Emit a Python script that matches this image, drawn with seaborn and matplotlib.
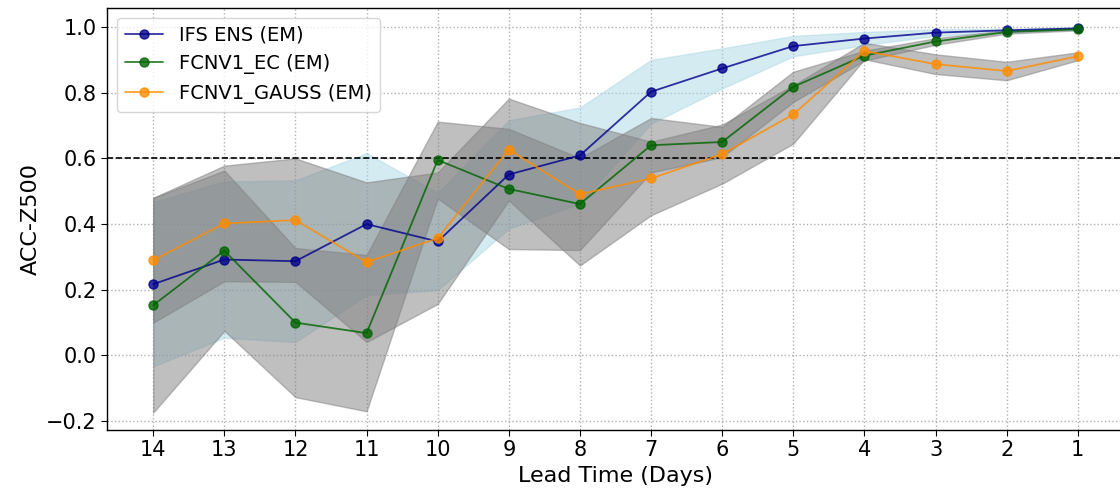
import numpy as np
import pandas as pd
import matplotlib
matplotlib.use("Agg")
import matplotlib.pyplot as plt
import seaborn as sns

# Lead times (days) and ensemble-mean ACC of Z500 with spread for each system
lead_days = [14, 13, 12, 11, 10, 9, 8, 7, 6, 5, 4, 3, 2, 1]

ifs_mean = [0.217, 0.292, 0.287, 0.400, 0.347, 0.551, 0.609, 0.803, 0.874, 0.942, 0.965, 0.983, 0.990, 0.996]
ifs_spread = [0.250, 0.238, 0.246, 0.216, 0.148, 0.165, 0.146, 0.097, 0.061, 0.031, 0.020, 0.010, 0.005, 0.003]

ec_mean = [0.153, 0.319, 0.100, 0.068, 0.595, 0.507, 0.461, 0.640, 0.650, 0.818, 0.913, 0.956, 0.985, 0.993]
ec_spread = [0.327, 0.244, 0.227, 0.238, 0.117, 0.183, 0.140, 0.083, 0.046, 0.046, 0.015, 0.010, 0.005, 0.003]

gauss_mean = [0.290, 0.402, 0.412, 0.284, 0.357, 0.627, 0.491, 0.539, 0.613, 0.734, 0.927, 0.887, 0.866, 0.911]
gauss_spread = [0.190, 0.176, 0.188, 0.243, 0.200, 0.155, 0.217, 0.112, 0.090, 0.089, 0.025, 0.030, 0.028, 0.012]

series_names = ["IFS ENS (EM)", "FCNV1_EC (EM)", "FCNV1_GAUSS (EM)"]
line_colors = ["darkblue", "darkgreen", "darkorange"]
band_colors = ["lightblue", "gray", "gray"]

means = [ifs_mean, ec_mean, gauss_mean]
spreads = [ifs_spread, ec_spread, gauss_spread]

threshold = 0.6

sns.set_style("ticks")
plt.rcParams["font.family"] = ["DejaVu Sans"]
plt.rcParams["text.color"] = "black"
plt.rcParams["axes.labelcolor"] = "black"
plt.rcParams["xtick.color"] = "black"
plt.rcParams["ytick.color"] = "black"

fig = plt.figure(figsize=(11.2, 4.97), dpi=100)
ax = fig.add_axes([107 / 1120, 1 - 430 / 497, (1124 - 107) / 1120, (430 - 8) / 497])

x = np.array(lead_days, dtype=float)

# Spread bands first, lines on top
for m, s, bc in zip(means, spreads, band_colors):
    m = np.array(m)
    s = np.array(s)
    ax.fill_between(x, m - s, m + s, color=bc, alpha=0.5, zorder=1)

for name, m, lc in zip(series_names, means, line_colors):
    df = pd.DataFrame({"lead": lead_days, "acc": m})
    sns.lineplot(data=df, x="lead", y="acc", ax=ax, color=lc, marker="o",
                 markersize=6.5, markeredgecolor=lc, markeredgewidth=1.0,
                 linewidth=1.3, alpha=0.8, label=name, zorder=3)

ax.axhline(threshold, color="black", linestyle="--", linewidth=1.2, zorder=2)

ax.set_xlim(14.65, 0.35)
ax.set_ylim(-0.227, 1.058)
ax.set_xticks(lead_days)
ax.set_xticklabels([str(d) for d in lead_days])
ax.set_yticks([-0.2, 0.0, 0.2, 0.4, 0.6, 0.8, 1.0])
ax.grid(True, linestyle=":", linewidth=1.0, color="#b0b0b0")
ax.tick_params(labelsize=15, length=4, colors="black")
ax.set_xlabel("Lead Time (Days)", fontsize=16, color="black")
ax.set_ylabel("ACC-Z500", fontsize=16, color="black")
for sp in ax.spines.values():
    sp.set_linewidth(1.0)
    sp.set_color("black")

leg = ax.legend(loc="upper left", fontsize=14, frameon=True, framealpha=0.8,
                borderaxespad=0.5)
for t in leg.get_texts():
    t.set_color("black")

fig.savefig("out.png", dpi=100)
